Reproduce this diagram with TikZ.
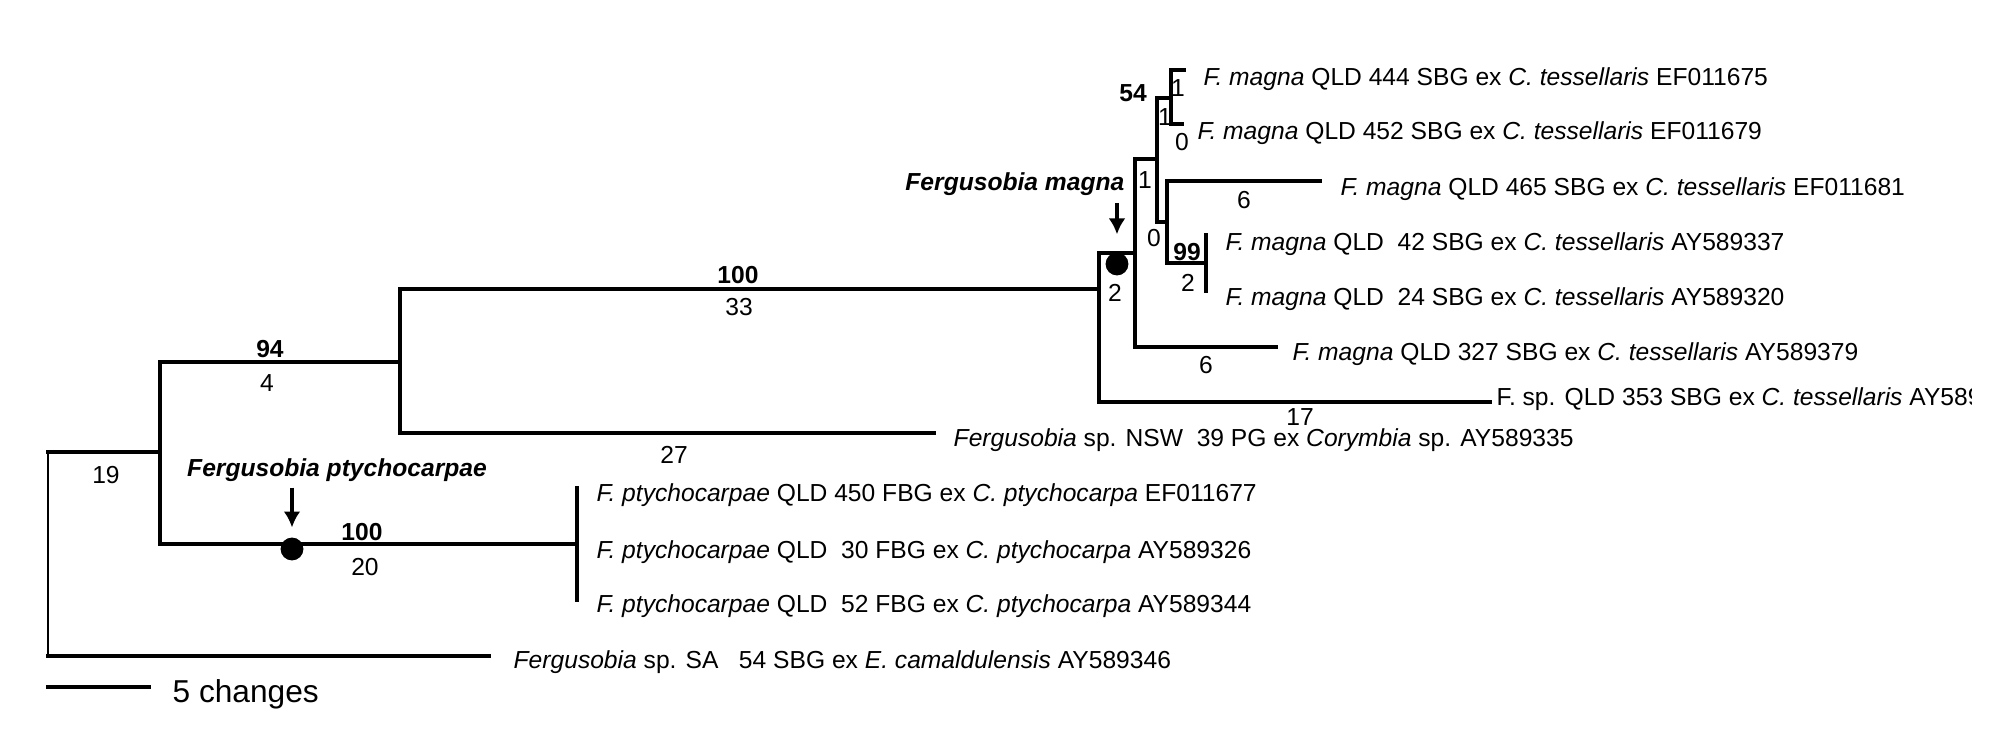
\documentclass[tikz,border=0pt]{standalone}
\usepackage{fontspec}
\setmainfont{Liberation Sans}
\usetikzlibrary{arrows.meta,positioning}

\begin{document}
\begin{tikzpicture}[
      x=0.01cm, y=-0.01cm,
      line cap=rect, line join=miter, >=Latex,
      font=\fontsize{7}{8}\selectfont,
      branch/.style={line width=1.1pt},
      rootline/.style={line width=0.6pt},
      taxon/.style={anchor=base west, inner sep=0pt},
      steps/.style={anchor=base, inner sep=0pt},
      support/.style={anchor=base, inner sep=0pt,
        font=\fontsize{7}{8}\selectfont\bfseries},
      cladename/.style={anchor=base, inner sep=0pt,
        font=\fontsize{7}{8}\selectfont\bfseries\itshape},
      marker/.style={circle, fill=black, inner sep=0pt, minimum size=6.5pt},
      pointer/.style={-{Latex[length=4.5pt,width=4.8pt]}, line width=1pt,
        line cap=butt}
    ]

    \useasboundingbox (0,0) rectangle (2008,752);

    % ------------------ Names ------------------
    \def\fmag{\textit{F. magna}}
    \def\ctes{\textit{C. tessellaris}}
    \def\fpty{\textit{F. ptychocarpae}}
    \def\cpty{\textit{C. ptychocarpa}}

    % ------------------ Internal nodes ------------------
    \coordinate (root) at (48,554);
    \coordinate (nIn) at (160,452);
    \coordinate (nEast) at (400,362);
    \coordinate (nMag) at (1099,289);
    \coordinate (nM1) at (1135,253);
    \coordinate (nM2) at (1157,159);
    \coordinate (nM3) at (1171,98);
    \coordinate (nM4) at (1167,222);
    \coordinate (nM5) at (1206,263);
    \coordinate (nPty) at (577,544);

    % ------------------ Tips ------------------
    \coordinate (t444) at (1184,70);
    \coordinate (t452) at (1182,124);
    \coordinate (t465) at (1320,181);
    \coordinate (t42) at (1206,235);
    \coordinate (t24) at (1206,291);
    \coordinate (t327) at (1276,347);
    \coordinate (t353) at (1490,402);
    \coordinate (tNSW) at (934,433);
    \coordinate (tP450) at (577,488);
    \coordinate (tP30) at (577,544);
    \coordinate (tP52) at (577,600);
    \coordinate (tSA) at (489,656);

    % ------------------ Branches ------------------
    \draw[rootline] (root |- nIn) -- (root |- tSA);
    \draw[branch] (root |- nIn) -- (nIn);
    \draw[branch] (root |- tSA) -- (tSA);
    \foreach \from/\to in {nIn/nEast, nIn/nPty, nEast/nMag, nEast/tNSW,
      nMag/nM1, nMag/t353, nM1/nM2, nM1/t327, nM2/nM3, nM2/nM4,
      nM3/t444, nM3/t452, nM4/t465, nM4/nM5, nM5/t42, nM5/t24,
      nPty/tP450, nPty/tP30, nPty/tP52}
      \draw[branch] (\from) |- (\to);

    % ------------------ Taxa ------------------
    \foreach \name/\x/\y/\txt in {
      lab444/1203/86/{\fmag\ QLD 444 SBG ex \ctes\ EF011675},
      lab452/1197/140/{\fmag\ QLD 452 SBG ex \ctes\ EF011679},
      lab465/1340/196/{\fmag\ QLD 465 SBG ex \ctes\ EF011681},
      lab42/1225/251/{\fmag\ QLD\ \ 42 SBG ex \ctes\ AY589337},
      lab24/1225/306/{\fmag\ QLD\ \ 24 SBG ex \ctes\ AY589320},
      lab327/1292/361/{\fmag\ QLD 327 SBG ex \ctes\ AY589379},
      labNSW/953/447/{\textit{Fergusobia} sp. NSW\ \ 39 PG ex \textit{Corymbia} sp. AY589335},
      labP450/596/502/{\fpty\ QLD 450 FBG ex \cpty\ EF011677},
      labP30/596/559/{\fpty\ QLD\ \ 30 FBG ex \cpty\ AY589326},
      labP52/596/613/{\fpty\ QLD\ \ 52 FBG ex \cpty\ AY589344},
      labSA/513/669/{\textit{Fergusobia} sp. SA\ \ \ 54 SBG ex \textit{E. camaldulensis} AY589346}}
      \node[taxon] (\name) at (\x,\y) {\txt};

    % the last taxon runs off the figure edge
    \begin{scope}
      \clip (0,0) rectangle (1971,752);
      \node[taxon] (lab353) at (1496,406) {F. sp. QLD 353 SBG ex \ctes\ AY589};
    \end{scope}

    % ------------------ Bootstrap support ------------------
    \node[support] (bs33) at (738,284) {100};
    \node[support] (bs4) at (270,358) {94};
    \node[support] (bs20) at (362,541) {100};
    \node[support] (bs54) at (1133,102) {54};
    \node[support] (bs99) at (1187,261) {99};

    % ------------------ Branch lengths ------------------
    \foreach \name/\x/\y/\num in {
      len33/739/316/33, len4/267/392/4, len27/674/464/27, len19/106/484/19,
      len20/365/576/20, lenM1/1115/302/2, len17/1300/426/17, len327/1206/374/6,
      lenM2/1145/189/1, lenM3/1165/126/1, len444/1178/97/1, len452/1182/151/0,
      lenM4/1154/247/0, len465/1244/209/6, lenM5/1188/292/2}
      \node[steps] (\name) at (\x,\y) {\num};

    % ------------------ Clade markers ------------------
    \node[marker] (dotMag) at (1117,264) {};
    \node[marker] (dotPty) at (292,549) {};
    \node[cladename, anchor=base east] (cladeMag) at (1125,191) {Fergusobia magna};
    \node[cladename] (cladePty) at (337,477) {Fergusobia ptychocarpae};
    \draw[pointer, shorten <=1.7pt, shorten >=5pt] (cladeMag.south -| dotMag)
    -- (dotMag.north);
    \draw[pointer, shorten <=1.4pt, shorten >=2.7pt] (cladePty.south -| dotPty)
    -- (dotPty.north);

    % ------------------ Scale bar ------------------
    \coordinate (barL) at (48,687);
    \coordinate (barR) at (149,687);
    \draw[branch] (barL) -- (barR);
    \node[anchor=base west, inner sep=0pt, font=\fontsize{9}{10}\selectfont]
    (barText) at (172,703) {5 changes};

  \end{tikzpicture}
\end{document}
